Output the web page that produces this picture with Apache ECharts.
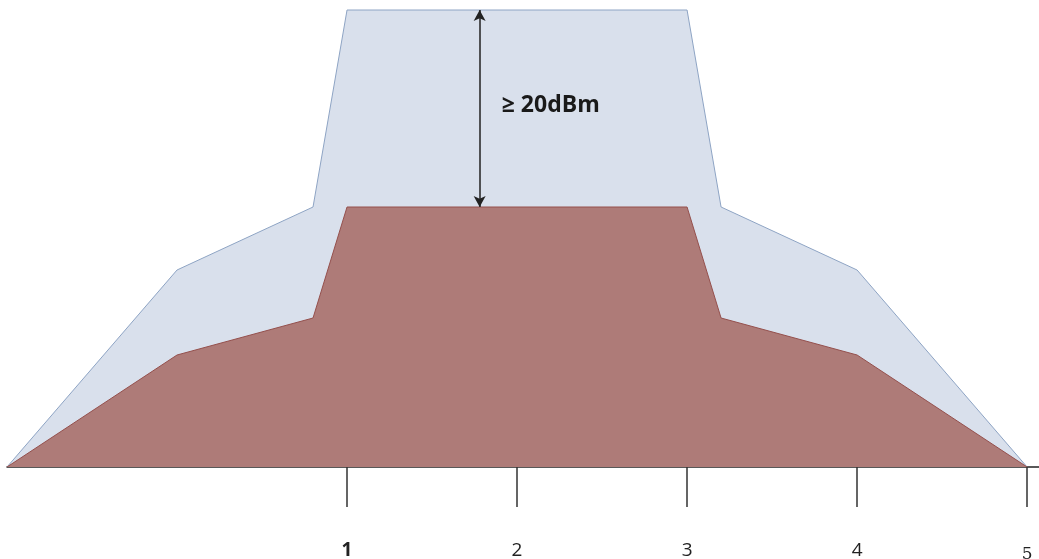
<!DOCTYPE html>
<html lang="en">
<head>
    <meta http-equiv="Content-Type" content="text/html;charset=utf-8">
    <script type="text/javascript" src="https://cdn.jsdelivr.net/npm/echarts@6/dist/echarts.min.js"></script>
    <title>Spectrum mask</title>
    <style>
        html, body { margin: 0; padding: 0; background: #fff; }
    </style>
</head>
<body>
<div id="main" style="width: 1039px;height:559px;"></div>
<script>
    // x positions of the mask corners (channel units), same for both shapes
    var mask_x = [-1, 0, 0.8, 1, 3, 3.2, 4, 5];
    // outer (light blue) mask level
    var outer_y = [0, 19.7, 26.0, 45.7, 45.7, 26.0, 19.7, 0];
    // inner (red) signal level
    var inner_y = [0, 11.2, 14.9, 26.0, 26.0, 14.9, 11.2, 0];
    // tick labels on the x axis
    var tick_values = [1, 2, 3, 4, 5];
    // the double arrow between the two levels, and its label
    var arrow_x = 1.78;
    var arrow_y = [45.7, 26.0];
    var arrow_text = '≥ 20dBm';
    var arrow_text_pos = [1.91, 36.2];

    function pairs(xs, ys) {
        return xs.map(function (x, i) {
            return [x, ys[i]];
        });
    }

    var myChart = echarts.init(document.getElementById('main'));

    var option = {
        animation: false,
        grid: {
            left: 7,
            right: 0,
            top: 0,
            bottom: 92,
            containLabel: false,
            outerBoundsMode: 'none'
        },
        xAxis: {
            type: 'value',
            min: -1,
            max: 5.07,
            splitLine: {show: false},
            axisLine: {
                lineStyle: {color: '#222', width: 1.5}
            },
            axisTick: {
                customValues: tick_values,
                length: 40,
                lineStyle: {color: '#333', width: 1.5}
            },
            axisLabel: {
                customValues: tick_values,
                margin: 74,
                color: '#222',
                fontSize: 18,
                fontFamily: 'Open Sans',
                formatter: function (v) {
                    if (v === 1) return '{b|' + v + '}';
                    if (v === 5) return '{s|' + v + '}';
                    return '{n|' + v + '}';
                },
                rich: {
                    b: {fontSize: 19, fontWeight: 'bold', fontFamily: 'Open Sans', color: '#222'},
                    n: {fontSize: 19, fontFamily: 'Open Sans', color: '#222'},
                    s: {fontSize: 17, fontFamily: 'DejaVu Serif', color: '#222', padding: [5, 0, 0, 0]}
                }
            }
        },
        yAxis: {
            type: 'value',
            min: 0,
            max: 46.7,
            show: false,
            splitLine: {show: false}
        },
        series: [
            {
                name: 'mask',
                type: 'line',
                data: pairs(mask_x, outer_y),
                symbol: 'none',
                z: 2,
                lineStyle: {color: '#8ea4c4', width: 1},
                areaStyle: {color: '#d9e0ec', opacity: 1},
                markLine: {
                    silent: true,
                    symbol: ['arrow', 'arrow'],
                    symbolSize: [9, 11],
                    lineStyle: {color: '#222', width: 1.5, type: 'solid'},
                    label: {show: false},
                    data: [[
                        {coord: [arrow_x, arrow_y[0]]},
                        {coord: [arrow_x, arrow_y[1]]}
                    ]]
                },
                markPoint: {
                    silent: true,
                    symbolSize: 0,
                    label: {
                        show: true,
                        position: 'right',
                        distance: 0,
                        formatter: arrow_text,
                        color: '#1a1a1a',
                        fontSize: 23,
                        fontWeight: 'bold',
                        fontFamily: 'Open Sans'
                    },
                    data: [{coord: arrow_text_pos}]
                }
            },
            {
                name: 'signal',
                type: 'line',
                data: pairs(mask_x, inner_y),
                symbol: 'none',
                z: 3,
                lineStyle: {color: '#94504d', width: 1},
                areaStyle: {color: '#ae7b78', opacity: 1}
            }
        ]
    };
    myChart.setOption(option);
</script>
</body>
</html>
